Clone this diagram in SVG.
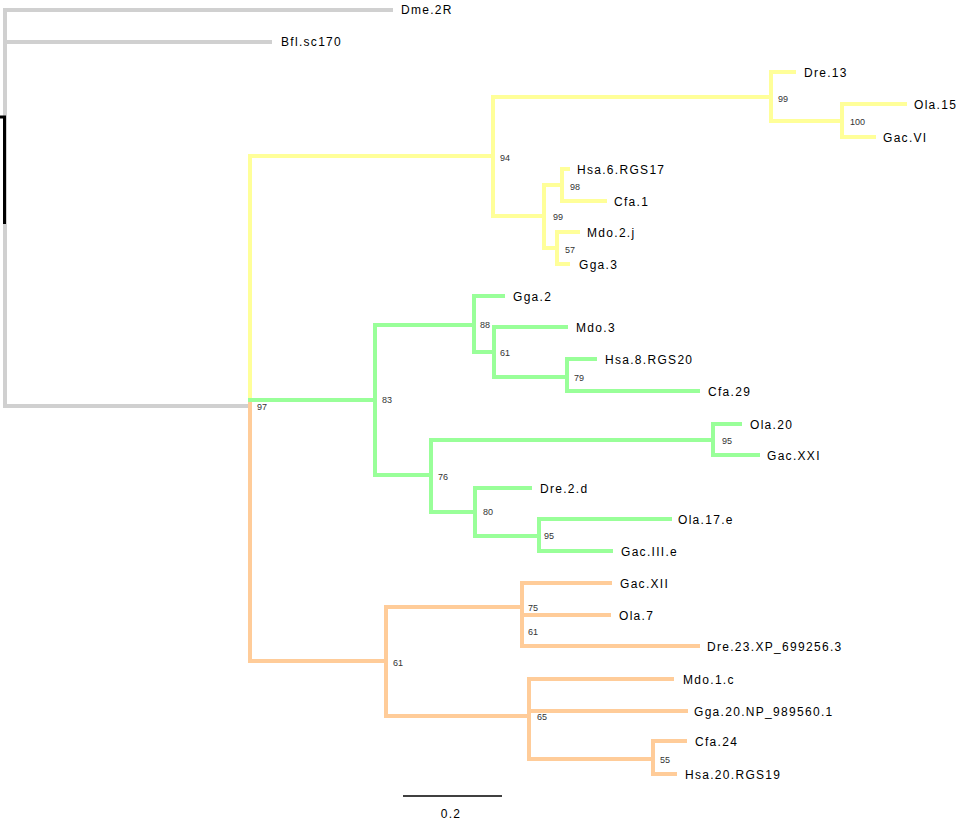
<svg xmlns="http://www.w3.org/2000/svg" width="964" height="823" viewBox="0 0 964 823">
<style>
.b{fill:none;stroke-width:4;stroke-linejoin:miter;stroke-linecap:butt}
.g{stroke:#d0d0d0}.y{stroke:#ffff99}.gr{stroke:#99ff99}.o{stroke:#ffcc99}
.leaf{font-family:"Liberation Sans",Arial,sans-serif;font-size:12px;letter-spacing:1.3px;fill:#000}
.bs{font-family:"Liberation Sans",Arial,sans-serif;font-size:9px;fill:#333}
</style>
<rect width="964" height="823" fill="#fff"/>
<g id="connectors">
<path class="b g" d="M393,10 H5 V406 H250"/>
<path class="b g" d="M5,42 H272"/>
<path d="M0,117 H4.5 V224" fill="none" stroke="#000" stroke-width="3"/>
<path class="b y" d="M250,402 V156 H493"/>
<path class="b y" d="M771,97 H493 V216 H544"/>
<path class="b y" d="M796,72 H771 V121 H842"/>
<path class="b y" d="M907,104 H842 V137 H876"/>
<path class="b y" d="M562,185 H544 V248 H557"/>
<path class="b y" d="M570,169 H562 V201 H607"/>
<path class="b y" d="M580,232 H557 V264 H570"/>
<path class="b o" d="M250,401 V661 H386"/>
<path class="b o" d="M522,607 H386 V716 H529"/>
<path class="b o" d="M612,583 H522 V646 H700"/>
<path class="b o" d="M522,615 H611"/>
<path class="b o" d="M674,679 H529 V759 H653"/>
<path class="b o" d="M529,711 H688"/>
<path class="b o" d="M687,741 H653 V774 H677"/>
<path class="b gr" d="M248,400 H375"/>
<path class="b gr" d="M474,325 H375 V475 H431"/>
<path class="b gr" d="M505,296 H474 V352 H494"/>
<path class="b gr" d="M568,327 H494 V377 H567"/>
<path class="b gr" d="M597,359 H567 V391 H700"/>
<path class="b gr" d="M713,440 H431 V512 H475"/>
<path class="b gr" d="M742,424 H713 V455 H760"/>
<path class="b gr" d="M532,488 H475 V536 H539"/>
<path class="b gr" d="M672,519 H539 V551 H613"/>
<line x1="403" y1="796" x2="502" y2="796" stroke="#000" stroke-width="1.5"/>
</g>
<g id="leaves">
<g id="leaf-Dme2R"><text class="leaf" x="401" y="14">Dme.2R</text></g>
<g id="leaf-Bfl"><text class="leaf" x="281" y="46">Bfl.sc170</text></g>
<g id="leaf-Dre13"><text class="leaf" x="804" y="77">Dre.13</text></g>
<g id="leaf-Ola15"><text class="leaf" x="914" y="109">Ola.15</text></g>
<g id="leaf-GacVI"><text class="leaf" x="883" y="142">Gac.VI</text></g>
<g id="leaf-Hsa6"><text class="leaf" x="577" y="174">Hsa.6.RGS17</text></g>
<g id="leaf-Cfa1"><text class="leaf" x="614" y="206">Cfa.1</text></g>
<g id="leaf-Mdo2j"><text class="leaf" x="587" y="237">Mdo.2.j</text></g>
<g id="leaf-Gga3"><text class="leaf" x="579" y="269">Gga.3</text></g>
<g id="leaf-Gga2"><text class="leaf" x="513" y="301">Gga.2</text></g>
<g id="leaf-Mdo3"><text class="leaf" x="576" y="332">Mdo.3</text></g>
<g id="leaf-Hsa8"><text class="leaf" x="605" y="364">Hsa.8.RGS20</text></g>
<g id="leaf-Cfa29"><text class="leaf" x="708" y="396">Cfa.29</text></g>
<g id="leaf-Ola20"><text class="leaf" x="750" y="429">Ola.20</text></g>
<g id="leaf-GacXXI"><text class="leaf" x="767" y="460">Gac.XXI</text></g>
<g id="leaf-Dre2d"><text class="leaf" x="540" y="493">Dre.2.d</text></g>
<g id="leaf-Ola17e"><text class="leaf" x="678" y="524">Ola.17.e</text></g>
<g id="leaf-GacIIIe"><text class="leaf" x="621" y="556">Gac.III.e</text></g>
<g id="leaf-GacXII"><text class="leaf" x="620" y="588">Gac.XII</text></g>
<g id="leaf-Ola7"><text class="leaf" x="619" y="620">Ola.7</text></g>
<g id="leaf-Dre23"><text class="leaf" x="707" y="651">Dre.23.XP_699256.3</text></g>
<g id="leaf-Mdo1c"><text class="leaf" x="683" y="684">Mdo.1.c</text></g>
<g id="leaf-Gga20"><text class="leaf" x="694" y="716">Gga.20.NP_989560.1</text></g>
<g id="leaf-Cfa24"><text class="leaf" x="695" y="746">Cfa.24</text></g>
<g id="leaf-Hsa20"><text class="leaf" x="685" y="779">Hsa.20.RGS19</text></g>
</g>
<g id="internal-nodes">
<g id="n97"><text class="bs" x="257" y="410">97</text></g>
<g id="n94"><text class="bs" x="500" y="161">94</text></g>
<g id="n99a"><text class="bs" x="778" y="102">99</text></g>
<g id="n100"><text class="bs" x="850" y="125">100</text></g>
<g id="n99b"><text class="bs" x="553" y="220">99</text></g>
<g id="n98"><text class="bs" x="570" y="190">98</text></g>
<g id="n57"><text class="bs" x="565" y="253">57</text></g>
<g id="n83"><text class="bs" x="382" y="403">83</text></g>
<g id="n88"><text class="bs" x="480" y="328">88</text></g>
<g id="n61a"><text class="bs" x="500" y="356">61</text></g>
<g id="n79"><text class="bs" x="574" y="381">79</text></g>
<g id="n76"><text class="bs" x="438" y="480">76</text></g>
<g id="n95a"><text class="bs" x="722" y="444">95</text></g>
<g id="n80"><text class="bs" x="483" y="515">80</text></g>
<g id="n95b"><text class="bs" x="544" y="539">95</text></g>
<g id="n61b"><text class="bs" x="393" y="666">61</text></g>
<g id="n75"><text class="bs" x="528" y="611">75</text></g>
<g id="n61c"><text class="bs" x="528" y="635">61</text></g>
<g id="n65"><text class="bs" x="537" y="720">65</text></g>
<g id="n55"><text class="bs" x="660" y="763">55</text></g>
</g>
<g id="scale"><text class="leaf" x="451" y="818" text-anchor="middle">0.2</text></g>
</svg>
